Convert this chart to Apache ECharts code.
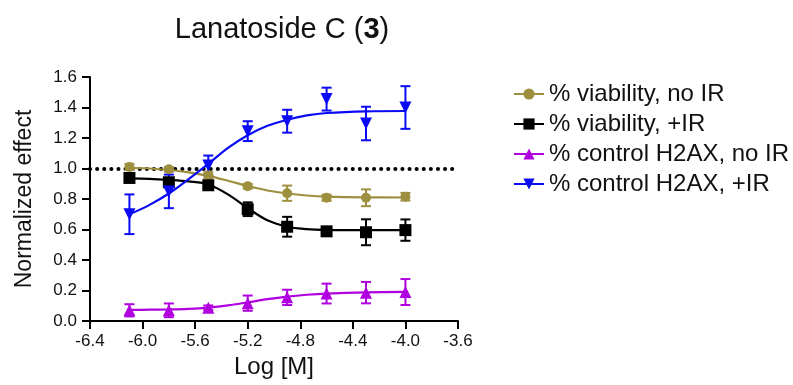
<!DOCTYPE html>
<html>
<head>
<meta charset="utf-8">
<script src="https://cdn.jsdelivr.net/npm/echarts@6/dist/echarts.min.js"></script>
<style>
html,body{margin:0;padding:0;background:#fff;}
#c{width:793px;height:385px;}
</style>
</head>
<body>
<div id="c"></div>
<script>
// ---- data ----
const doses = [-6.1, -5.8, -5.5, -5.2, -4.9, -4.6, -4.3, -4.0];
const seriesNames = ['% viability, no IR', '% viability, +IR', '% control H2AX, no IR', '% control H2AX, +IR'];

const viabNoIR      = [1.01, 0.995, 0.955, 0.884, 0.838, 0.808, 0.808, 0.815];
const viabNoIRErr   = [0.02, 0.015, 0.02, 0.015, 0.05, 0.02, 0.055, 0.025];
const viabIR        = [0.938, 0.91, 0.89, 0.733, 0.618, 0.588, 0.582, 0.596];
const viabIRErr     = [0.02, 0.02, 0.02, 0.045, 0.065, 0.015, 0.085, 0.07];
const h2axNoIR      = [0.07, 0.07, 0.087, 0.117, 0.155, 0.18, 0.186, 0.19];
const h2axNoIRErr   = [0.04, 0.045, 0.015, 0.05, 0.05, 0.065, 0.07, 0.085];
const h2axIR        = [0.70, 0.85, 1.02, 1.245, 1.31, 1.455, 1.295, 1.40];
const h2axIRErr     = [0.13, 0.11, 0.065, 0.065, 0.075, 0.075, 0.11, 0.14];

// fitted curves
const curveX         = [-6.1, -5.95, -5.8, -5.65, -5.5, -5.35, -5.2, -5.05, -4.9, -4.75, -4.6, -4.3, -4.0];
const viabNoIRCurve  = [1.005, 1.0, 0.99, 0.975, 0.952, 0.92, 0.885, 0.856, 0.836, 0.823, 0.816, 0.811, 0.81];
const viabIRCurve    = [0.935, 0.932, 0.925, 0.915, 0.895, 0.83, 0.74, 0.66, 0.618, 0.603, 0.598, 0.596, 0.596];
const h2axNoIRCurve  = [0.073, 0.074, 0.076, 0.08, 0.088, 0.102, 0.122, 0.143, 0.16, 0.172, 0.18, 0.188, 0.191];
const h2axIRCurve    = [0.70, 0.76, 0.836, 0.93, 1.03, 1.135, 1.218, 1.28, 1.32, 1.348, 1.364, 1.375, 1.377];

const xTicks = {min: -6.4, max: -3.6, step: 0.4};
const yTicks = {min: 0, max: 1.6, step: 0.2};
const refLine = 1.0;

// ---- styling ----
const FONT = 'Liberation Sans, Arial, sans-serif';
const groups = [
  {name: seriesNames[0], vals: viabNoIR, err: viabNoIRErr, curve: viabNoIRCurve, color: '#9e8f3f', symbol: 'circle', size: 10, rot: 0},
  {name: seriesNames[1], vals: viabIR, err: viabIRErr, curve: viabIRCurve, color: '#000000', symbol: 'rect', size: 12, rot: 0},
  {name: seriesNames[2], vals: h2axNoIR, err: h2axNoIRErr, curve: h2axNoIRCurve, color: '#b000e0', symbol: 'triangle', size: 12, rot: 0},
  {name: seriesNames[3], vals: h2axIR, err: h2axIRErr, curve: h2axIRCurve, color: '#0a0af5', symbol: 'triangle', size: 12, rot: 180}
];

function errRender(color) {
  return function (params, api) {
    const x = api.value(0), y = api.value(1), e = api.value(2);
    const t = api.coord([x, y + e]), b = api.coord([x, y - e]);
    const w = 5;
    const st = {stroke: color, lineWidth: 2};
    return {type: 'group', children: [
      {type: 'line', shape: {x1: t[0], y1: t[1], x2: b[0], y2: b[1]}, style: st},
      {type: 'line', shape: {x1: t[0] - w, y1: t[1], x2: t[0] + w, y2: t[1]}, style: st},
      {type: 'line', shape: {x1: b[0] - w, y1: b[1], x2: b[0] + w, y2: b[1]}, style: st}
    ]};
  };
}

const series = [];
groups.forEach(function (g, i) {
  series.push({
    name: g.name, type: 'line', smooth: 0.35,
    data: curveX.map(function (x, k) { return [x, g.curve[k]]; }),
    symbol: g.symbol, symbolSize: g.size, symbolRotate: g.rot, showSymbol: false,
    lineStyle: {color: g.color, width: 2.2}, itemStyle: {color: g.color},
    z: 3, silent: true,
    markLine: i === 0 ? {
      silent: true, symbol: 'none', label: {show: false}, z: 1,
      lineStyle: {color: '#000', width: 4, type: [0.1, 7], cap: 'round'},
      data: [{yAxis: refLine}]
    } : undefined
  });
});
groups.forEach(function (g) {
  series.push({
    name: g.name, type: 'custom', renderItem: errRender(g.color),
    data: doses.map(function (x, k) { return [x, g.vals[k], g.err[k]]; }),
    z: 4, silent: true
  });
});
groups.forEach(function (g) {
  series.push({
    name: g.name, type: 'scatter',
    data: doses.map(function (x, k) { return [x, g.vals[k]]; }),
    symbol: g.symbol, symbolSize: g.size, symbolRotate: g.rot,
    itemStyle: {color: g.color, opacity: 1}, z: 5, silent: true
  });
});

const chart = echarts.init(document.getElementById('c'));
chart.setOption({
  animation: false,
  backgroundColor: '#fff',
  title: {
    text: '{a|Lanatoside C (}{b|3}{a|)}',
    left: 277, top: 10, textAlign: 'center',
    textStyle: {fontWeight: 'normal', rich: {
      a: {fontFamily: FONT, fontSize: 29, fontWeight: 'normal', color: '#111'},
      b: {fontFamily: FONT, fontSize: 29, fontWeight: 'bold', color: '#111'}
    }}
  },
  legend: {
    data: seriesNames,
    orient: 'vertical', left: 508, top: 77,
    itemWidth: 30, itemHeight: 14, itemGap: 6,
    textStyle: {fontFamily: FONT, fontSize: 24, color: '#111'},
    selectedMode: false
  },
  grid: {left: 90, right: 335, top: 77, bottom: 64, containLabel: false},
  xAxis: {
    type: 'value', min: xTicks.min, max: xTicks.max, interval: xTicks.step,
    name: 'Log [M]', nameLocation: 'middle', nameGap: 30,
    nameTextStyle: {fontFamily: FONT, fontSize: 24, color: '#111'},
    axisLine: {onZero: false, lineStyle: {color: '#000', width: 2}},
    axisTick: {show: true, length: 8, lineStyle: {color: '#000', width: 2}},
    axisLabel: {fontFamily: FONT, fontSize: 17, color: '#111', margin: 12,
      formatter: function (v) { return v.toFixed(1); }},
    splitLine: {show: false}
  },
  yAxis: {
    type: 'value', min: yTicks.min, max: yTicks.max, interval: yTicks.step,
    name: 'Normalized effect', nameLocation: 'middle', nameGap: 54,
    nameTextStyle: {fontFamily: FONT, fontSize: 23, color: '#111'},
    axisLine: {show: true, lineStyle: {color: '#000', width: 2}},
    axisTick: {show: true, length: 8, lineStyle: {color: '#000', width: 2}},
    axisLabel: {fontFamily: FONT, fontSize: 17, color: '#111', margin: 13,
      formatter: function (v) { return v.toFixed(1); }},
    splitLine: {show: false}
  },
  series: series
});
</script>
</body>
</html>
